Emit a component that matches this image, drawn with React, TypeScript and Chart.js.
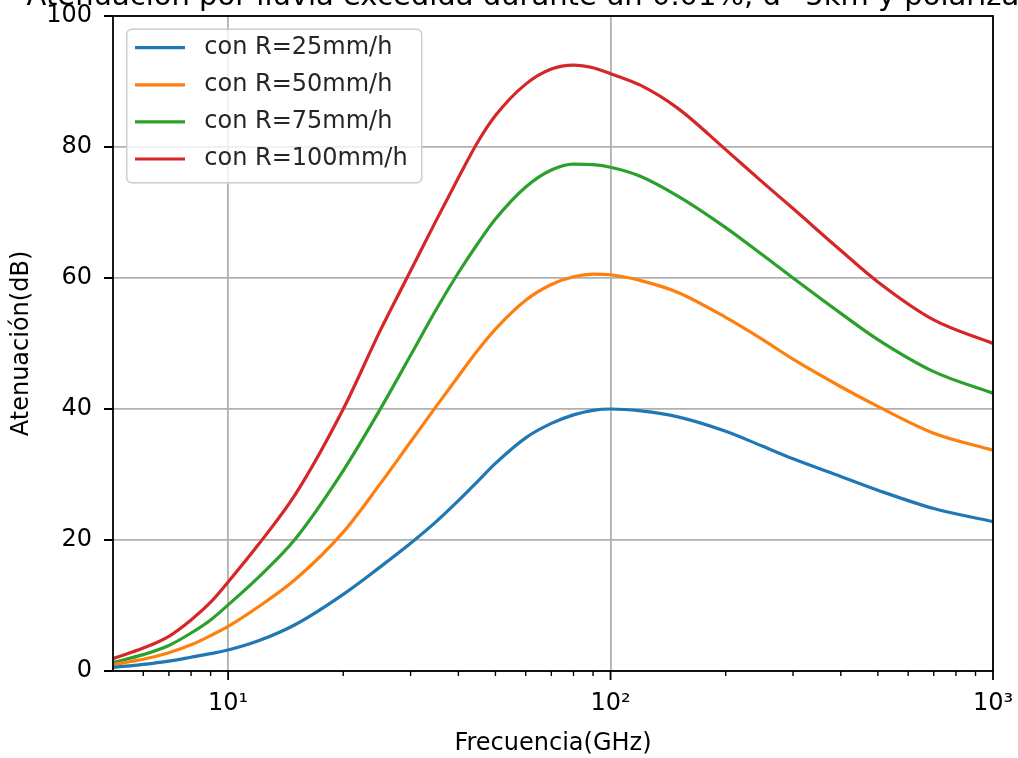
import React, { useEffect, useRef } from 'react';
import { Chart, registerables } from 'chart.js';

Chart.register(...registerables);

const TITLE = 'Atenuación por lluvia excedida durante un 0.01%, d=5km y polarización';
const X_LABEL = 'Frecuencia(GHz)';
const Y_LABEL = 'Atenuación(dB)';

const frequencies = [5, 6, 7, 8, 9, 10, 12, 15, 20, 25, 30, 35, 40, 45, 50, 60, 70, 80, 90, 100, 120, 150, 200, 250, 300, 400, 500, 700, 1000];

const attR25 = [0.55, 1.0, 1.5, 2.1, 2.65, 3.2, 4.6, 7.1, 11.7, 15.9, 19.5, 22.8, 26.0, 29.0, 31.7, 35.6, 37.8, 39.1, 39.8, 40.0, 39.7, 38.8, 36.6, 34.3, 32.4, 29.7, 27.6, 24.8, 22.8];
const attR50 = [1.0, 1.8, 2.8, 4.0, 5.4, 6.8, 9.8, 14.0, 21.2, 28.6, 35.0, 40.4, 45.0, 49.0, 52.2, 56.6, 59.0, 60.2, 60.6, 60.5, 59.6, 57.8, 54.0, 50.6, 47.6, 43.4, 40.4, 36.3, 33.7];
const attR75 = [1.3, 2.5, 3.9, 5.8, 7.8, 10.1, 14.3, 20.2, 30.6, 40.0, 48.2, 55.2, 60.8, 65.3, 69.0, 73.9, 76.5, 77.4, 77.3, 76.9, 75.5, 72.5, 67.7, 63.5, 60.0, 54.6, 50.6, 45.7, 42.4];
const attR100 = [1.9, 3.5, 5.3, 7.8, 10.5, 13.6, 19.3, 27.0, 40.0, 52.0, 61.1, 68.8, 75.3, 80.8, 84.8, 89.6, 91.9, 92.5, 92.1, 91.2, 89.4, 85.9, 79.6, 74.6, 70.6, 64.2, 59.4, 53.6, 50.0];

const seriesLabels = ['con R=25mm/h', 'con R=50mm/h', 'con R=75mm/h', 'con R=100mm/h'];
const seriesValues = [attR25, attR50, attR75, attR100];
const seriesColors = ['#1f77b4', '#ff7f0e', '#2ca02c', '#d62728'];

const xMajorTicks = [10, 100, 1000];
const xMajorLabels = ['10¹', '10²', '10³'];
const xMinorTicks = [6, 7, 8, 9, 20, 30, 40, 50, 60, 70, 80, 90, 200, 300, 400, 500, 600, 700, 800, 900];
const yTicks = [0, 20, 40, 60, 80, 100];

const W = 1018;
const H = 758;
const T = 21;
const FONT = "'DejaVu Sans', 'Liberation Sans', sans-serif";
const FS = 24;
const TITLE_FS = 29;

const decorPlugin = {
  id: 'decor',
  afterDatasetsDraw(chart: any) {
    const { ctx, chartArea: a, scales } = chart;
    const xs = scales.x;
    const ys = scales.y;
    ctx.save();
    ctx.strokeStyle = '#000';
    ctx.lineWidth = 1.8;
    ctx.beginPath();
    for (const v of yTicks) {
      const y = ys.getPixelForValue(v);
      ctx.moveTo(a.left - 9, y);
      ctx.lineTo(a.left, y);
    }
    for (const v of xMajorTicks) {
      const x = xs.getPixelForValue(v);
      ctx.moveTo(x, a.bottom);
      ctx.lineTo(x, a.bottom + 9);
    }
    ctx.stroke();
    ctx.lineWidth = 1.4;
    ctx.beginPath();
    for (const v of xMinorTicks) {
      const x = xs.getPixelForValue(v);
      ctx.moveTo(x, a.bottom);
      ctx.lineTo(x, a.bottom + 5);
    }
    ctx.stroke();
    ctx.lineWidth = 1.8;
    ctx.strokeRect(a.left, a.top, a.right - a.left, a.bottom - a.top);

    // legend
    const lx = a.left + 13.7;
    const ly = a.top + 13.3;
    const lw = 295;
    const lh = 153.4;
    ctx.beginPath();
    ctx.roundRect(lx, ly, lw, lh, 5);
    ctx.fillStyle = 'rgba(255,255,255,0.8)';
    ctx.fill();
    ctx.strokeStyle = '#cccccc';
    ctx.lineWidth = 1.5;
    ctx.stroke();
    ctx.font = `${FS}px ${FONT}`;
    ctx.textBaseline = 'middle';
    ctx.textAlign = 'left';
    seriesLabels.forEach((label, i) => {
      const ry = ly + 18.4 + i * 37.1;
      ctx.strokeStyle = seriesColors[i];
      ctx.lineWidth = 3.2;
      ctx.beginPath();
      ctx.moveTo(lx + 8.3, ry);
      ctx.lineTo(lx + 58.3, ry);
      ctx.stroke();
      ctx.fillStyle = '#262626';
      ctx.fillText(label, lx + 77.6, ry);
    });

    // title (centered over the plot area, wider than the figure)
    ctx.font = `${TITLE_FS}px ${FONT}`;
    ctx.textAlign = 'center';
    ctx.textBaseline = 'alphabetic';
    ctx.fillStyle = '#000';
    ctx.fillText(TITLE, (a.left + a.right) / 2, T + 5);
    ctx.restore();
  },
};

export default function App() {
  const ref = useRef<HTMLCanvasElement | null>(null);
  useEffect(() => {
    document.body.style.overflow = 'hidden';
    const canvas = ref.current;
    if (!canvas) return;
    const datasets = seriesValues.map((vals, i) => ({
      label: seriesLabels[i],
      data: frequencies.map((f, j) => ({ x: f, y: vals[j] })),
      borderColor: seriesColors[i],
      backgroundColor: seriesColors[i],
      borderWidth: 3.2,
      pointRadius: 0,
      fill: false,
      cubicInterpolationMode: 'monotone' as const,
    }));
    const font = { family: FONT, size: FS, weight: 'normal' as const, lineHeight: 1.2 };
    const chart = new Chart(canvas, {
      type: 'line',
      data: { datasets },
      plugins: [decorPlugin],
      options: {
        responsive: false,
        animation: false,
        devicePixelRatio: 1,
        layout: { padding: { top: T + 16, right: 25, bottom: 0, left: 0 } },
        plugins: {
          legend: { display: false },
          tooltip: { enabled: false },
          title: { display: false },
        },
        scales: {
          x: {
            type: 'logarithmic',
            min: 5,
            max: 1000,
            afterBuildTicks: (s: any) => {
              s.ticks = [...xMajorTicks, ...xMinorTicks].sort((p, q) => p - q).map((v) => ({ value: v }));
            },
            afterFit: (s: any) => {
              s.height = 87;
              s.paddingLeft = 0;
              s.paddingRight = 0;
            },
            grid: {
              color: (c: any) => (c.tick && xMajorTicks.includes(c.tick.value) ? '#b0b0b0' : 'rgba(0,0,0,0)'),
              lineWidth: 1.8,
              drawTicks: false,
            },
            border: { display: false },
            ticks: {
              autoSkip: false,
              maxRotation: 0,
              minRotation: 0,
              padding: 18,
              color: '#000',
              font,
              callback: (v: any) => {
                const i = xMajorTicks.indexOf(Number(v));
                return i >= 0 ? xMajorLabels[i] : '';
              },
            },
            title: { display: true, text: X_LABEL, color: '#000', font, padding: { top: 0, bottom: 0 } },
          },
          y: {
            min: 0,
            max: 100,
            afterFit: (s: any) => {
              s.width = 113;
              s.paddingTop = 0;
              s.paddingBottom = 0;
            },
            afterBuildTicks: (s: any) => {
              s.ticks = yTicks.map((v) => ({ value: v }));
            },
            grid: { color: '#b0b0b0', lineWidth: 1.8, drawTicks: false },
            border: { display: false },
            ticks: { padding: 21, color: '#000', font },
            title: { display: true, text: Y_LABEL, color: '#000', font, padding: { top: 7.6, bottom: 0 } },
          },
        },
      },
    });
    return () => chart.destroy();
  }, []);
  return (
    <div style={{ position: 'absolute', left: 0, top: -T, width: W, height: H + T }}>
      <canvas ref={ref} width={W} height={H + T} style={{ display: 'block' }} />
    </div>
  );
}
